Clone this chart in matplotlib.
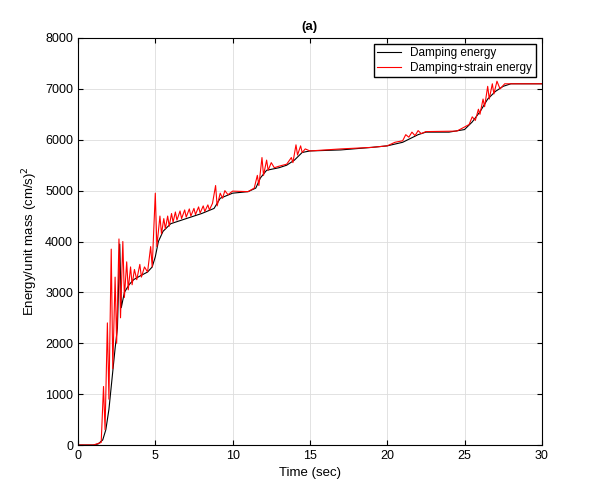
import matplotlib
matplotlib.use("Agg")
import matplotlib.pyplot as plt

plt.rcParams['font.family'] = ['Liberation Sans', 'DejaVu Sans']

# damping energy (black)
t_damp = [0, 1.0, 1.3, 1.6, 1.8, 2.0, 2.2, 2.4, 2.55, 2.7, 2.8, 3.0, 3.3, 3.6, 4.0, 4.5,
          4.8, 5.0, 5.2, 5.5, 6.0, 7, 8, 8.8, 9.2, 10, 11, 11.5, 11.8, 12.2, 13, 13.5,
          14, 14.5, 15, 17, 19, 20, 21, 22, 22.5, 24, 25, 25.5, 26, 26.5, 27, 27.5, 28, 30]
e_damp = [0, 0, 20, 100, 300, 700, 1300, 1900, 2300, 3950, 2700, 3000, 3150, 3250, 3320, 3400,
          3500, 3700, 4000, 4200, 4350, 4450, 4550, 4650, 4850, 4950, 4980, 5050, 5250, 5400,
          5450, 5500, 5600, 5750, 5780, 5800, 5850, 5880, 5950, 6100, 6150, 6150, 6200, 6350,
          6550, 6800, 6950, 7050, 7100, 7100]

# damping + strain energy (red), with the spikes
t_tot = [0, 1.0, 1.5, 1.65, 1.75, 1.9, 2.0, 2.15, 2.25, 2.4, 2.5, 2.65, 2.75, 2.9, 3.0, 3.15,
         3.25, 3.4, 3.5, 3.65, 3.8, 4.0, 4.1, 4.3, 4.5, 4.7, 4.8, 5.0, 5.1, 5.3, 5.4, 5.55,
         5.65, 5.8, 5.9, 6.05, 6.15, 6.3, 6.4, 6.6, 6.7, 6.9, 7.0, 7.2, 7.3, 7.5, 7.6, 7.8,
         7.9, 8.1, 8.2, 8.4, 8.5, 8.7, 8.9, 9.0, 9.2, 9.35, 9.5, 9.7, 10, 11, 11.4, 11.6,
         11.7, 11.9, 12.0, 12.2, 12.3, 12.5, 12.7, 13, 13.5, 13.8, 13.9, 14.1, 14.2, 14.4,
         14.5, 14.7, 15, 17, 19, 20, 20.5, 21, 21.2, 21.4, 21.6, 21.8, 22, 22.2, 22.5, 24.5,
         25, 25.3, 25.5, 25.7, 25.9, 26.0, 26.2, 26.3, 26.5, 26.6, 26.8, 26.9, 27.1, 27.3,
         27.6, 28, 30]
e_tot = [0, 0, 50, 1150, 300, 2400, 900, 3850, 1500, 3300, 2000, 4050, 2500, 4000, 2900, 3600,
         3050, 3500, 3150, 3450, 3250, 3550, 3300, 3500, 3400, 3900, 3500, 4950, 3900, 4500,
         4150, 4450, 4250, 4500, 4300, 4550, 4380, 4580, 4420, 4600, 4450, 4620, 4480, 4640,
         4500, 4650, 4530, 4680, 4560, 4700, 4590, 4720, 4620, 4750, 5100, 4700, 4950, 4850,
         5000, 4920, 4990, 4980, 5050, 5300, 5100, 5650, 5300, 5600, 5400, 5550, 5450, 5480,
         5520, 5650, 5550, 5900, 5700, 5880, 5750, 5820, 5780, 5820, 5850, 5880, 5950, 5980,
         6100, 6050, 6150, 6080, 6180, 6120, 6160, 6170, 6250, 6300, 6450, 6380, 6600, 6500,
         6800, 6650, 7050, 6800, 7100, 6900, 7150, 7000, 7100, 7100, 7100]

fig = plt.figure(figsize=(6, 5), dpi=100)
ax = fig.add_axes([0.13, 0.11, 0.773, 0.814])
ax.plot(t_damp, e_damp, color="black", lw=0.8, label="Damping energy")
ax.plot(t_tot, e_tot, color="red", lw=0.8, label="Damping+strain energy")
ax.set_xlim(0, 30)
ax.set_ylim(0, 8000)
ax.set_xticks(range(0, 31, 5))
ax.set_yticks(range(0, 8001, 1000))
ax.grid(True, color="#dddddd", lw=0.6)
ax.tick_params(labelsize=9, direction="in", top=True, right=True)
ax.set_xlabel("Time (sec)", fontsize=9.5)
ax.set_ylabel("Energy/unit mass (cm/s)$^2$", fontsize=9.5)
ax.set_title("(a)", fontsize=9.5, fontweight="bold")
ax.legend(loc="upper right", fontsize=8.5, fancybox=False, edgecolor="black",
          framealpha=1, borderpad=0.3, labelspacing=0.2)
fig.savefig("out.png")
